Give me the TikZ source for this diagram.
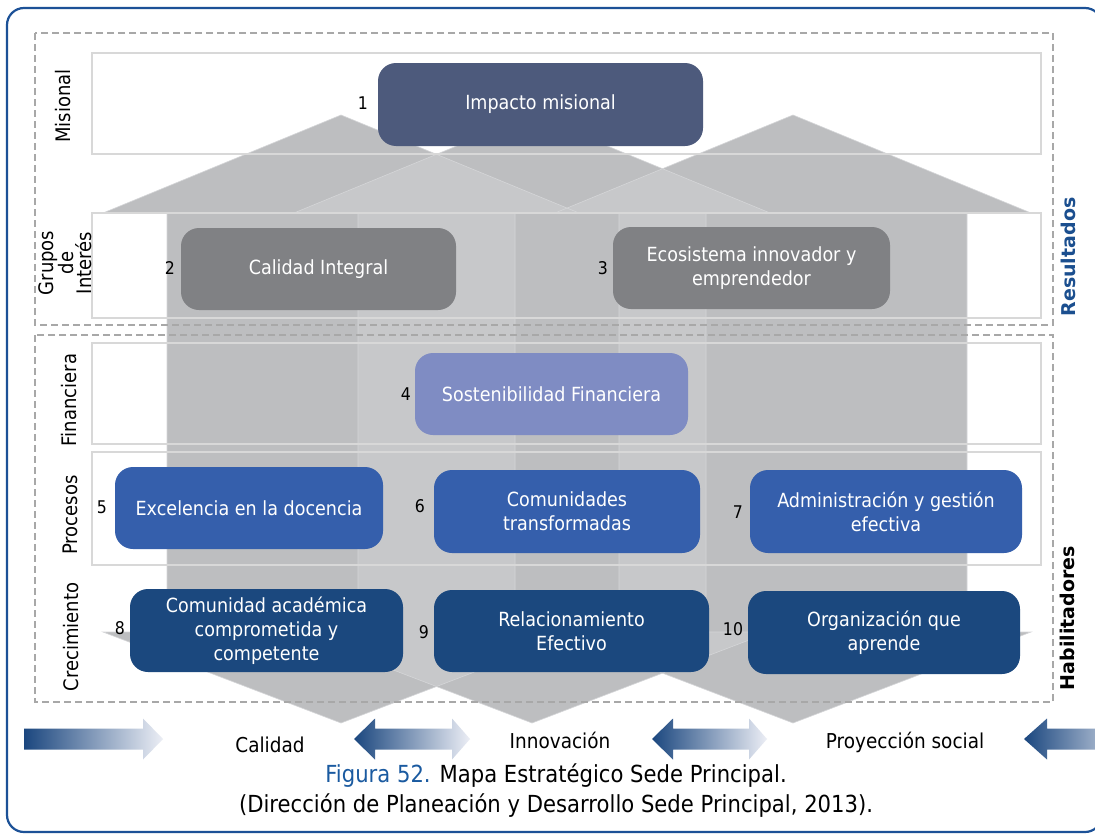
\documentclass[tikz,border=0pt]{standalone}
\usepackage{fontspec}
\setmainfont{DejaVu Sans}[FakeStretch=0.9]
\newfontfamily\widefont{DejaVu Sans}
\usetikzlibrary{positioning}
\definecolor{frameblue}{HTML}{1C5197}
\definecolor{colbase}{HTML}{BDBEC0}
\definecolor{collight}{HTML}{C7C8CA}
\definecolor{coledge}{HTML}{D5D6D8}
\definecolor{rowline}{HTML}{D8D8D8}
\definecolor{dashgray}{HTML}{A8A8A8}
\definecolor{cmis}{HTML}{4D5A7C}
\definecolor{cgray}{HTML}{808184}
\definecolor{cfin}{HTML}{7F8CC3}
\definecolor{cproc}{HTML}{355FAC}
\definecolor{ccrec}{HTML}{1B487E}
\definecolor{figblue}{HTML}{1A5AA0}
\definecolor{resblue}{HTML}{1B4F8F}
\definecolor{arrdark}{HTML}{1B477F}
\definecolor{arrlight}{HTML}{ECEEF5}
\newcommand\colpath[1]{(#1,115) -- (#1+238,213) -- (#1+174,213) -- (#1+174,632) -- (#1+238,632) -- (#1,723) -- (#1-238,632) -- (#1-174,632) -- (#1-174,213) -- (#1-238,213) -- cycle}
\begin{document}
\begin{tikzpicture}[x=1pt,y=-1pt,
  objbox/.style={rounded corners=18pt, text=white, align=center, inner sep=0pt,
    font=\fontsize{19.5}{24}\selectfont},
  num/.style={font=\fontsize{17.5}{20}\selectfont, text=black, inner sep=0pt},
  rowlab/.style={rotate=90, font=\fontsize{20}{18}\selectfont, align=center, inner sep=0pt},
  sidelab/.style={rotate=90, font=\widefont\bfseries\fontsize{19}{22}\selectfont, inner sep=0pt},
  botlab/.style={font=\fontsize{20.5}{24}\selectfont, inner sep=0pt},
  rowbox/.style={draw=rowline, line width=1.8pt},
  dashbox/.style={draw=dashgray, line width=1.3pt, dash pattern=on 7pt off 4pt},
  arrowshade/.style={left color=arrdark, right color=arrlight}
]
\useasboundingbox (0,0) rectangle (1095,835);
\fill[white] (0,0) rectangle (1095,835);
% outer frame
\draw[frameblue, line width=2.2pt, rounded corners=17pt] (7,8) rectangle (1102,832);
% row box fills
\fill[white] (92,53) rectangle (1041,154);
\fill[white] (92,213) rectangle (1041,318);
\fill[white] (92,343) rectangle (1041,444);
\fill[white] (92,452) rectangle (1041,565);
% columns
\fill[colbase] \colpath{341};
\fill[colbase] \colpath{532};
\fill[colbase] \colpath{793};
\begin{scope}
  \clip \colpath{341};
  \fill[collight] \colpath{532};
  \fill[collight] \colpath{793};
\end{scope}
\begin{scope}
  \clip \colpath{532};
  \fill[collight] \colpath{793};
\end{scope}
\draw[coledge, line width=0.6pt] \colpath{341};
\draw[coledge, line width=0.6pt] \colpath{532};
\draw[coledge, line width=0.6pt] \colpath{793};
% row box borders
\draw[rowbox] (92,53) rectangle (1041,154);
\draw[rowbox] (92,213) rectangle (1041,318);
\draw[rowbox] (92,343) rectangle (1041,444);
\draw[rowbox] (92,452) rectangle (1041,565);
% dashed groups
\draw[dashbox] (35,33) rectangle (1053,325);
\draw[dashbox] (35,335) rectangle (1053,702);
% row labels
\node[rowlab] (lmis) at (63,106) {Misional};
\node[rowlab] (lgru) at (65,263) {Grupos\\de\\Interés};
\node[rowlab] (lfin) at (69,400) {Financiera};
\node[rowlab] (lpro) at (70,515) {Procesos};
\node[rowlab] (lcre) at (71.5,637) {Crecimiento};
\node[sidelab, text=resblue] (lres) at (1068,257) {Resultados};
\node[sidelab, text=black] (lhab) at (1067,618) {Habilitadores};
% objective boxes
\node[objbox, fill=cmis, minimum width=325pt, minimum height=83pt] (n1) at (540.5,104.5) {Impacto misional};
\node[objbox, fill=cgray, minimum width=275pt, minimum height=82pt] (n2) at (318.5,269) {Calidad Integral};
\node[objbox, fill=cgray, minimum width=277pt, minimum height=82pt] (n3) at (751.5,268) {Ecosistema innovador y\\emprendedor};
\node[objbox, fill=cfin, minimum width=273pt, minimum height=82pt] (n4) at (551.5,394) {Sostenibilidad Financiera};
\node[objbox, fill=cproc, minimum width=268pt, minimum height=82pt] (n5) at (249,508) {Excelencia en la docencia};
\node[objbox, fill=cproc, minimum width=266pt, minimum height=83pt] (n6) at (567,511.5) {Comunidades\\transformadas};
\node[objbox, fill=cproc, minimum width=272pt, minimum height=83pt] (n7) at (886,511.5) {Administración y gestión\\efectiva};
\node[objbox, fill=ccrec, minimum width=273pt, minimum height=83pt] (n8) at (266.5,630.5) {Comunidad académica\\comprometida y\\competente};
\node[objbox, fill=ccrec, minimum width=275pt, minimum height=82pt] (n9) at (571.5,631) {Relacionamiento\\Efectivo};
\node[objbox, fill=ccrec, minimum width=272pt, minimum height=83pt] (n10) at (884,632.5) {Organización que\\aprende};
% numbers
\node[num] (k1) at (363,103) {1};
\node[num] (k2) at (170,268) {2};
\node[num] (k3) at (603,268) {3};
\node[num] (k4) at (406,394) {4};
\node[num] (k5) at (102,507) {5};
\node[num] (k6) at (420,506) {6};
\node[num] (k7) at (738,512) {7};
\node[num] (k8) at (120,628) {8};
\node[num] (k9) at (424,632) {9};
\node[num] (k10) at (733,629) {10};
% bottom arrows
\shade[arrowshade] (24,728.5) -- (143,728.5) -- (143,718.5) -- (163,739) -- (143,759.5) -- (143,749.5) -- (24,749.5) -- cycle;
\shade[arrowshade] (354,739) -- (375,718.5) -- (375,728.5) -- (452,728.5) -- (452,718.5) -- (470,739) -- (452,759.5) -- (452,749.5) -- (375,749.5) -- (375,759.5) -- cycle;
\shade[arrowshade] (652,739) -- (673,718.5) -- (673,728.5) -- (749,728.5) -- (749,718.5) -- (767,739) -- (749,759.5) -- (749,749.5) -- (673,749.5) -- (673,759.5) -- cycle;
\shade[arrowshade] (1024,739) -- (1047,718.5) -- (1047,728.5) -- (1142,728.5) -- (1142,749.5) -- (1047,749.5) -- (1047,759.5) -- cycle;
% bottom labels
\node[botlab] (tcal) at (270,745) {Calidad};
\node[botlab] (tinn) at (560,740) {Innovación};
\node[botlab] (tpro) at (905,742) {Proyección social};
% caption
\node[botlab, font=\fontsize{23.5}{30}\selectfont, align=center] (cap) at (556,791) {\textcolor{figblue}{Figura 52.} Mapa Estratégico Sede Principal.\\(Dirección de Planeación y Desarrollo Sede Principal, 2013).};
\end{tikzpicture}
\end{document}
